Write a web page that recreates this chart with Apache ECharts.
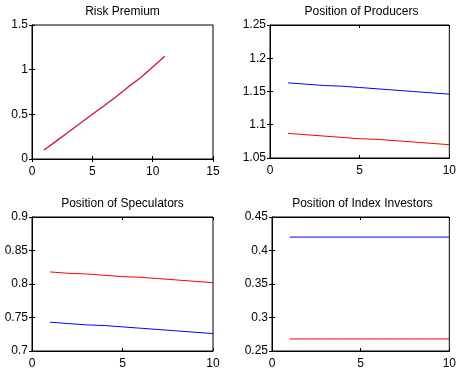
<!DOCTYPE html>
<html><head><meta charset="utf-8">
<script src="https://cdn.jsdelivr.net/npm/echarts@6/dist/echarts.min.js"></script>
<style>html,body{margin:0;padding:0;background:#fff}#c{width:459px;height:373px}</style>
</head><body><div id="c"></div>
<script>
// ---- data ----
const titles = ["Risk Premium", "Position of Producers", "Position of Speculators", "Position of Index Investors"];
const xRisk = [1,2,3,4,5,6,7,8,9,10,11];
const riskPremium = [0.10,0.20,0.30,0.40,0.50,0.60,0.70,0.81,0.91,1.03,1.15];
const xPos = [1,2,3,4,5,6,7,8,9,10];
const producersBlue = [1.163,1.161,1.159,1.158,1.156,1.154,1.152,1.150,1.148,1.146];
const producersRed  = [1.087,1.085,1.083,1.081,1.079,1.078,1.076,1.074,1.072,1.070];
const speculatorsRed  = [0.818,0.816,0.815,0.813,0.811,0.810,0.808,0.806,0.804,0.802];
const speculatorsBlue = [0.743,0.741,0.739,0.738,0.736,0.734,0.732,0.730,0.728,0.726];
const indexBlue = [0.42,0.42,0.42,0.42,0.42,0.42,0.42,0.42,0.42,0.42];
const indexRed  = [0.268,0.268,0.268,0.268,0.268,0.268,0.268,0.268,0.268,0.268];
const yTicks = [
  {min:0, max:1.5, interval:0.5},
  {min:1.05, max:1.25, interval:0.05},
  {min:0.7, max:0.9, interval:0.05},
  {min:0.25, max:0.45, interval:0.05}
];
const xTicks = [
  {min:0, max:15, interval:5},
  {min:0, max:10, interval:5},
  {min:0, max:10, interval:5},
  {min:0, max:10, interval:5}
];
// ---- layout ----
const grids = [
  {left:32, top:25, width:181, height:134},
  {left:270, top:25, width:183, height:133},
  {left:32, top:217, width:181, height:134},
  {left:272, top:217, width:181, height:134}
];
const font = "Liberation Sans, Arial, sans-serif";
const BLUE = "#0000ff", RED = "#ff0000";
function pair(a){ return xPos.map((x,i)=>[x,a[i]]); }

const option = {
  animation:false,
  backgroundColor:"#fff",
  title: titles.map((t,i)=>({
    text:t, left: grids[i].left + grids[i].width/2, top: grids[i].top - 19, textAlign:"center", padding:0,
    textStyle:{fontFamily:font, fontSize:12, fontWeight:"normal", color:"#000"}
  })),
  grid: grids.map(g=>Object.assign({containLabel:false, show:true, borderColor:"#000", borderWidth:1}, g)),
  xAxis: [],
  yAxis: [],
  series: []
};
for(let i=0;i<4;i++){
  const xt = xTicks[i], yt = yTicks[i];
  const base = {axisLine:{show:true, lineStyle:{color:"#000", width:1}}, splitLine:{show:false},
    axisTick:{show:true, inside:true, length:3, lineStyle:{color:"#000"}}};
  option.xAxis.push(Object.assign({type:"value", gridIndex:i, min:xt.min, max:xt.max, interval:xt.interval, position:"bottom",
    axisLabel:{fontFamily:font, fontSize:12, color:"#000", margin:7, showMaxLabel:true}}, base));
  option.xAxis.push(Object.assign({type:"value", gridIndex:i, min:xt.min, max:xt.max, interval:xt.interval, position:"top",
    axisLabel:{show:false}}, base));
  option.yAxis.push(Object.assign({type:"value", gridIndex:i, min:yt.min, max:yt.max, interval:yt.interval, position:"left",
    axisLabel:{fontFamily:font, fontSize:12, color:"#000", margin:4}}, base));
  option.yAxis.push(Object.assign({type:"value", gridIndex:i, min:yt.min, max:yt.max, interval:yt.interval, position:"right",
    axisLabel:{show:false}}, base));
}
function line(i, data, color, w){
  return {type:"line", xAxisIndex:2*i, yAxisIndex:2*i, data:data, symbol:"none", silent:true,
    lineStyle:{color:color, width:w||1}, itemStyle:{color:color}};
}
option.series.push(line(0, xRisk.map((x,k)=>[x,riskPremium[k]]), "#cc1155", 1.3));
option.series.push(line(1, pair(producersBlue), BLUE));
option.series.push(line(1, pair(producersRed), RED));
option.series.push(line(2, pair(speculatorsRed), RED));
option.series.push(line(2, pair(speculatorsBlue), BLUE));
option.series.push(line(3, pair(indexBlue), BLUE));
option.series.push(line(3, pair(indexRed), RED));
echarts.init(document.getElementById("c"), null, {renderer:"canvas"}).setOption(option);
</script></body></html>
